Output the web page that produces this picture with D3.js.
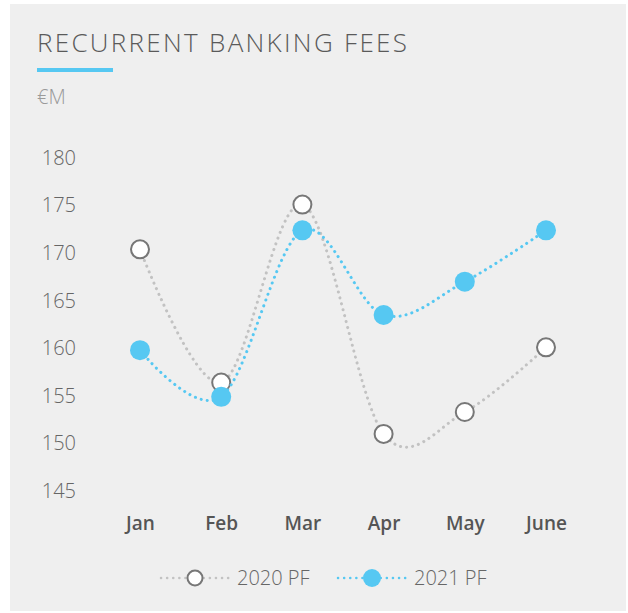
<!DOCTYPE html>
<html>
<head>
<meta charset="utf-8">
<script src="https://cdn.jsdelivr.net/npm/d3@7"></script>
<style>
  body { margin: 0; background: #ffffff; }
  svg { display: block; font-family: "Open Sans", "Segoe UI", sans-serif; }
</style>
</head>
<body>
<svg id="chart" width="628" height="613"></svg>
<script>
// chart data
var months = ["Jan", "Feb", "Mar", "Apr", "May", "June"];
var fees2020 = [170.4, 156.4, 175.1, 151.0, 153.3, 160.1];
var fees2021 = [159.8, 154.9, 172.4, 163.5, 167.0, 172.4];
var yTicks = [145, 150, 155, 160, 165, 170, 175, 180];
var seriesNames = ["2020 PF", "2021 PF"];

var grey = "#c2c2c2";
var blue = "#56c8f2";

var svg = d3.select("#chart");

// panel background
svg.append("rect")
  .attr("x", 10).attr("y", 4)
  .attr("width", 616).attr("height", 607)
  .attr("fill", "#efefef");

// title block
svg.append("text")
  .attr("x", 37).attr("y", 52)
  .attr("fill", "#5a5a5a")
  .style("font-size", "26px")
  .style("font-weight", 300)
  .style("letter-spacing", "2.3px")
  .text("RECURRENT BANKING FEES");

svg.append("rect")
  .attr("x", 37).attr("y", 68)
  .attr("width", 76).attr("height", 4)
  .attr("fill", blue);

svg.append("text")
  .attr("x", 37).attr("y", 104)
  .attr("fill", "#9a9a9a")
  .style("font-size", "20px")
  .style("font-weight", 300)
  .text("€M");

// scales
var x = d3.scalePoint()
  .domain(months)
  .range([140, 546]);

var y = d3.scaleLinear()
  .domain([145, 180])
  .range([491, 158]);

// y axis
var yAxis = svg.append("g")
  .attr("transform", "translate(76,0)")
  .call(d3.axisLeft(y).tickValues(yTicks).tickSize(0).tickPadding(0));
yAxis.select(".domain").remove();
yAxis.selectAll("text")
  .attr("fill", "#666")
  .style("font-family", "'Open Sans', sans-serif")
  .style("font-size", "20px")
  .style("font-weight", 300);

// x axis
var xAxis = svg.append("g")
  .attr("transform", "translate(0,516)")
  .call(d3.axisBottom(x).tickSize(0).tickPadding(0));
xAxis.select(".domain").remove();
xAxis.selectAll("text")
  .attr("fill", "#555")
  .attr("dy", "0.71em")
  .style("font-family", "'Open Sans', sans-serif")
  .style("font-size", "19px")
  .style("font-weight", 600);

var line = d3.line()
  .x(function(d, i) { return x(months[i]); })
  .y(function(d) { return y(d); })
  .curve(d3.curveCardinal.tension(0));

function dotted(sel, color) {
  return sel.attr("fill", "none")
    .attr("stroke", color)
    .attr("stroke-width", 3)
    .attr("stroke-linecap", "round")
    .attr("stroke-dasharray", "0.1 6");
}

// 2020 series
dotted(svg.append("path").attr("d", line(fees2020)), grey);
svg.append("g").selectAll("circle")
  .data(fees2020)
  .join("circle")
  .attr("cx", function(d, i) { return x(months[i]); })
  .attr("cy", function(d) { return y(d); })
  .attr("r", 9)
  .attr("fill", "#fff")
  .attr("stroke", "#777")
  .attr("stroke-width", 2);

// 2021 series
dotted(svg.append("path").attr("d", line(fees2021)), blue);
svg.append("g").selectAll("circle")
  .data(fees2021)
  .join("circle")
  .attr("cx", function(d, i) { return x(months[i]); })
  .attr("cy", function(d) { return y(d); })
  .attr("r", 10)
  .attr("fill", blue);

// legend
var legend = svg.append("g").attr("transform", "translate(0,578)");
var legendX = [160, 337];
seriesNames.forEach(function(name, i) {
  var g = legend.append("g").attr("transform", "translate(" + legendX[i] + ",0)");
  dotted(g.append("line").attr("x1", 1).attr("x2", 70).attr("y1", 0).attr("y2", 0), i ? blue : grey)
    .attr("stroke-width", 2.5)
    .attr("stroke-dasharray", "0.1 6");
  if (i) {
    g.append("circle").attr("cx", 35).attr("r", 9).attr("fill", blue);
  } else {
    g.append("circle").attr("cx", 35).attr("r", 7.5)
      .attr("fill", "#fff").attr("stroke", "#777").attr("stroke-width", 2);
  }
  g.append("text")
    .attr("x", 77).attr("dy", "0.35em")
    .attr("fill", "#666")
    .style("font-size", "20px")
    .style("font-weight", 300)
    .text(name);
});
</script>
</body>
</html>
